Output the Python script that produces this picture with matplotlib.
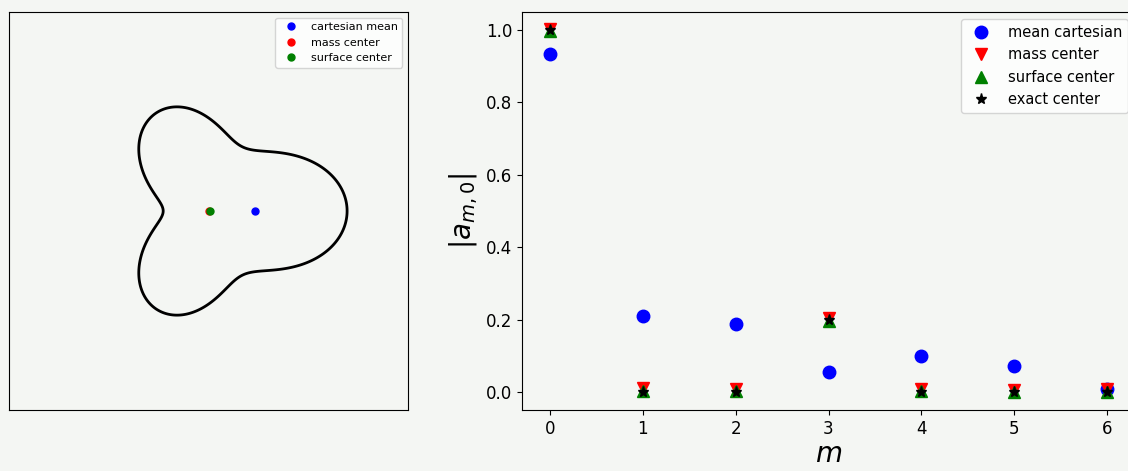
import numpy as np
import matplotlib.pyplot as plt

# 轮廓系数（从左图读出的形状）
shape_a0 = 1.0
shape_a3 = 0.185

# 左图：各种中心的位置 (x, y)
centers_x = [0.138, -0.003, 0.0]
centers_y = [0.0, 0.0, 0.0]
center_labels = ['cartesian mean', 'mass center', 'surface center']
center_colors = ['b', 'r', 'g']

# 右图：|a_{m,0}|
m_vals = [0, 1, 2, 3, 4, 5, 6]
mean_cartesian = [0.935, 0.209, 0.188, 0.054, 0.100, 0.072, 0.008]
mass_center = [1.002, 0.010, 0.009, 0.205, 0.008, 0.004, 0.007]
surface_center = [0.998, 0.002, 0.002, 0.197, 0.002, 0.001, 0.001]
exact_center = [1.0, 0.0, 0.0, 0.2, 0.0, 0.0, 0.0]

bg = '#f4f6f3'

fig = plt.figure(figsize=(11.28, 4.71), dpi=100, facecolor=bg)

# 左图：形状轮廓
ax1 = fig.add_axes([9 / 1128, 61 / 471, 399 / 1128, 398 / 471], facecolor=bg)
theta = np.linspace(0, 2 * np.pi, 721)
c = np.cos(theta)
y00 = 0.5 / np.sqrt(np.pi)
y30 = np.sqrt(7 / (4 * np.pi)) * 0.5 * (5 * c**3 - 3 * c)
r = shape_a0 * y00 + shape_a3 * y30
ax1.fill(r * np.cos(theta), r * np.sin(theta), facecolor='none',
         edgecolor='k', linewidth=2)
for x, y, lab, col in zip(centers_x, centers_y, center_labels, center_colors):
    ax1.plot(x, y, 'o', color=col, markersize=5, label=lab)
lim = 0.612
shift = 0.005
ax1.set_xlim(-lim - shift, lim - shift)
ax1.set_ylim(-lim * 398 / 399, lim * 398 / 399)
ax1.set_xticks([])
ax1.set_yticks([])
ax1.legend(loc='upper right', fontsize=8)

# 右图：系数
ax2 = fig.add_axes([522 / 1128, 61 / 471, 613 / 1128, 398 / 471], facecolor=bg)
ax2.plot(m_vals, mean_cartesian, 'bo', markersize=9, label='mean cartesian')
ax2.plot(m_vals, mass_center, 'rv', markersize=9, label='mass center')
ax2.plot(m_vals, surface_center, 'g^', markersize=9, label='surface center')
ax2.plot(m_vals, exact_center, 'k*', markersize=8, label='exact center')
ax2.set_xlim(-0.3, 6.3)
ax2.set_ylim(-0.05, 1.05)
ax2.tick_params(labelsize=12)
ax2.set_xlabel('$m$', fontsize=20, labelpad=2)
ax2.set_ylabel(r'$|a_{m,0}|$', fontsize=20)
ax2.legend(loc='upper right', fontsize=10.5)

plt.savefig('out.png', dpi=100, facecolor=bg)
